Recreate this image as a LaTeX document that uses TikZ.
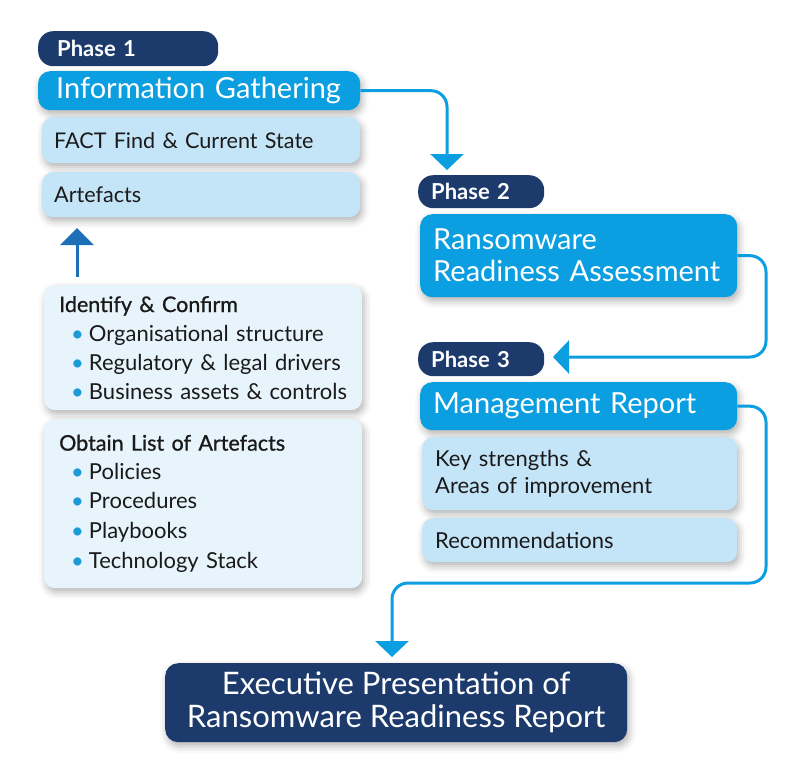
\documentclass[tikz,border=0pt]{standalone}
\usepackage{fontspec}
\setmainfont{Lato}
\newfontfamily\semib[FakeBold=0.9]{Lato}
\usetikzlibrary{arrows.meta,shadows.blur}
\definecolor{navy}{HTML}{1C3A6B}
\definecolor{bright}{HTML}{0B9EE0}
\definecolor{lightb}{HTML}{C4E5F8}
\definecolor{vlight}{HTML}{E8F4FC}
\definecolor{upblue}{HTML}{1D6FB8}
\definecolor{bul}{HTML}{1A9AD6}
\definecolor{ink}{HTML}{1A1A1A}
\tikzset{
  shad/.style={blur shadow={shadow xshift=2pt, shadow yshift=-4pt, shadow blur radius=7pt, shadow opacity=30}},
  pill/.style={fill=navy, rounded corners=15pt, text=white, font=\fontsize{22}{26}\selectfont\bfseries, anchor=north west, align=left, inner xsep=15pt, inner ysep=0pt, text depth=0pt},
  head/.style={fill=bright, rounded corners=12pt, text=white, font=\fontsize{29}{32}\selectfont, anchor=north west, align=left, inner xsep=16pt, inner ysep=0pt, shad},
  lbox/.style={fill=lightb, rounded corners=11pt, text=ink, font=\fontsize{21.6}{27}\selectfont, anchor=north west, align=left, inner xsep=14pt, inner ysep=0pt, shad},
  vbox/.style={fill=vlight, rounded corners=11pt, text=ink, font=\fontsize{22}{29}\selectfont, anchor=north west, align=left, inner xsep=15pt, inner ysep=0pt, shad},
  conn/.style={draw=bright, line width=3pt, rounded corners=16pt, -{Triangle[width=33pt,length=16pt]}},
}
\newcommand{\bitem}{\hspace*{12pt}{\color{bul}\textbullet}\hspace{5pt}}
\begin{document}
\begin{tikzpicture}[x=1pt,y=-1pt]
\useasboundingbox (0,0) rectangle (800,782);
% Phase 1
\node[pill, minimum width=180pt, minimum height=35pt, text width=142pt, inner xsep=19pt] (p1) at (38,31) {Phase 1};
\node[head, minimum width=322pt, minimum height=39pt, text width=286pt, inner xsep=18pt] (info) at (38,71) {Information Gathering};
\node[lbox, minimum width=318pt, minimum height=46pt, text width=294pt, inner xsep=12pt] (fact) at (42,117) {FACT Find \& Current State};
\node[lbox, minimum width=318pt, minimum height=45pt, text width=294pt, inner xsep=12pt] (art) at (42,172) {Artefacts};
\node[vbox, minimum width=318pt, minimum height=125pt, text width=288pt] (idf) at (44,285)
 {{\semib\fontsize{21.5}{29}\selectfont Identify \& Confirm}\\
  \bitem Organisational structure\\
  \bitem Regulatory \& legal drivers\\
  \bitem Business assets \& controls};
\node[vbox, minimum width=318pt, minimum height=169pt, text width=288pt] (obt) at (44,419)
 {{\semib\fontsize{21.5}{29}\selectfont Obtain List of Artefacts}\\
  \bitem Policies\\
  \bitem Procedures\\[1pt]
  \bitem Playbooks\\[1pt]
  \bitem Technology Stack};
% Phase 2
\node[pill, minimum width=126pt, minimum height=33pt, text width=100pt, inner xsep=13pt] (p2) at (418,175) {Phase 2};
\node[head, minimum width=317pt, minimum height=83pt, text width=291pt, inner xsep=13pt] (rra) at (420,214) {Ransomware\\Readiness Assessment};
% Phase 3
\node[pill, minimum width=126pt, minimum height=34pt, text width=100pt, inner xsep=13pt] (p3) at (418,342) {Phase 3};
\node[head, minimum width=317pt, minimum height=48pt, text width=291pt, inner xsep=13pt] (mr) at (420,382) {Management Report};
\node[lbox, minimum width=315pt, minimum height=73pt, text width=289pt, inner xsep=13pt, font=\fontsize{22}{27}\selectfont] (key) at (422,437) {Key strengths \&\\Areas of improvement};
\node[lbox, minimum width=315pt, minimum height=44pt, text width=289pt, inner xsep=13pt, font=\fontsize{22}{27}\selectfont] (rec) at (422,518) {Recommendations};
% Final
\node[fill=navy, rounded corners=13pt, text=white, font=\fontsize{31}{33}\selectfont, align=center, minimum width=462pt, minimum height=79pt, inner sep=0pt, anchor=north west, shad] (exe) at (165,663) {Executive Presentation of\\Ransomware Readiness Report};
% connectors
\coordinate (t1) at (447,170);
\draw[conn] (info.east) -| (t1);
\coordinate (c2) at (766,357);
\coordinate (t2) at (553,357);
\draw[conn] (rra.east) -| (c2) -- (t2);
\coordinate (c3) at (766,583);
\coordinate (t3) at (392,657);
\draw[conn] (mr.east) -| (c3) -| (t3);
\coordinate (u1) at (77,277);
\coordinate (u2) at (77,228);
\draw[draw=upblue, line width=3pt, -{Triangle[width=33pt,length=17pt]}] (u1) -- (u2);
\end{tikzpicture}
\end{document}
